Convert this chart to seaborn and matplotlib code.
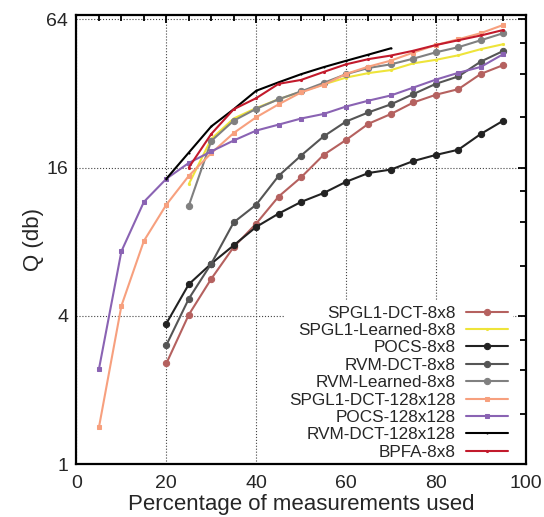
import numpy as np
import pandas as pd
import seaborn as sns
import matplotlib.pyplot as plt
from matplotlib.ticker import FixedLocator, FixedFormatter, NullFormatter

# values (Q in db, log scale base 2)
x_8x8 = [20, 25, 30, 35, 40, 45, 50, 55, 60, 65, 70, 75, 80, 85, 90, 95]
x_learned = [25, 30, 35, 40, 45, 50, 55, 60, 65, 70, 75, 80, 85, 90, 95]
x_128 = [5, 10, 15, 20, 25, 30, 35, 40, 45, 50, 55, 60, 65, 70, 75, 80, 85, 90, 95]
x_rvm128 = [20, 25, 30, 35, 40, 45, 50, 55, 60, 65, 70]

spgl1_dct_8 = [2.56, 4.04, 5.65, 7.61, 9.47, 12.2, 14.6, 18.0, 20.7, 24.1, 26.4, 29.4,
               31.6, 33.3, 38.4, 41.7]
spgl1_learned_8 = [13.7, 20.9, 25.3, 27.9, 30.3, 32.5, 34.8, 37.1, 38.7, 39.8, 42.4,
                   43.8, 45.7, 48.4, 50.7]
pocs_8 = [3.72, 5.37, 6.51, 7.73, 9.18, 10.4, 11.6, 12.6, 14.0, 15.2, 15.7, 17.0,
          18.0, 18.9, 21.9, 24.8]
rvm_dct_8 = [3.04, 4.69, 6.51, 9.58, 11.3, 14.8, 17.9, 21.4, 24.6, 26.8, 28.9, 31.8,
             35.0, 37.5, 43.1, 47.6]
rvm_learned_8 = [11.2, 20.5, 24.8, 27.7, 30.3, 32.6, 35.3, 38.3, 40.6, 42.0, 44.3,
                 47.0, 49.3, 52.6, 56.2]
spgl1_dct_128 = [1.41, 4.39, 8.05, 11.3, 14.8, 18.3, 22.1, 25.6, 28.9, 32.3, 34.7,
                 38.4, 41.1, 43.5, 46.9, 50.3, 53.1, 56.2, 60.7]
pocs_128 = [2.43, 7.31, 11.6, 14.4, 16.7, 18.6, 20.6, 22.6, 23.9, 25.3, 26.4, 28.3,
            29.9, 31.4, 33.8, 36.4, 38.8, 41.0, 46.2]
rvm_dct_128 = [14.4, 18.4, 23.5, 27.6, 32.8, 35.5, 38.3, 40.9, 43.4, 46.0, 48.8]
bpfa_8 = [16.0, 21.9, 27.6, 30.6, 35.0, 36.3, 39.1, 42.0, 44.1, 45.6, 47.7, 50.3,
          52.6, 55.0, 57.9]

series = [
    ("SPGL1-DCT-8x8", x_8x8, spgl1_dct_8, "#b5615f", "o", 4.5),
    ("SPGL1-Learned-8x8", x_learned, spgl1_learned_8, "#eee43a", ".", 3),
    ("POCS-8x8", x_8x8, pocs_8, "#222222", "o", 4.5),
    ("RVM-DCT-8x8", x_8x8, rvm_dct_8, "#555555", "o", 4.5),
    ("RVM-Learned-8x8", x_learned, rvm_learned_8, "#808080", "o", 4.5),
    ("SPGL1-DCT-128x128", x_128, spgl1_dct_128, "#f7a07e", "s", 3.5),
    ("POCS-128x128", x_128, pocs_128, "#8a63b3", "s", 3.5),
    ("RVM-DCT-128x128", x_rvm128, rvm_dct_128, "#000000", ".", 1.5),
    ("BPFA-8x8", x_learned, bpfa_8, "#c21a2c", ".", 3),
]

sns.set_style("white")
plt.rcParams['font.family'] = ['Liberation Sans', 'DejaVu Sans']

fig = plt.figure(figsize=(5.44, 5.17), dpi=100)
rect = [0.1406, 0.1025, 0.8258, 0.8691]
ax = fig.add_axes(rect)

for name, xs, ys, color, marker, ms in series:
    df = pd.DataFrame({'x': xs, 'y': ys})
    sns.lineplot(data=df, x='x', y='y', ax=ax, color=color, marker=marker,
                 markersize=ms, markeredgecolor=color, linewidth=1.5, label=name)

ax.set_yscale('log', base=2)
ax.set_xlim(0, 100)
ax.set_ylim(1, 2 ** 6.062)

ax.xaxis.set_major_locator(FixedLocator([0, 20, 40, 60, 80, 100]))
ax.xaxis.set_minor_locator(FixedLocator(np.arange(0, 101, 5)))
ax.yaxis.set_major_locator(FixedLocator([1, 4, 16, 64]))
ax.yaxis.set_major_formatter(FixedFormatter(['1', '4', '16', '64']))
ax.yaxis.set_minor_locator(FixedLocator([1.6, 2.4, 3.2, 6.4, 9.6, 12.8, 25.6, 38.4, 51.2]))
ax.yaxis.set_minor_formatter(NullFormatter())

ax.grid(True, which='major', linestyle=':', color='#444444', linewidth=0.8)
ax.tick_params(which='both', length=0, labelsize=14)
ax.tick_params(axis='x', which='major', pad=8)
ax.tick_params(axis='y', which='major', pad=6)

ax.set_xlabel('Percentage of measurements used', fontsize=16, labelpad=1)
ax.set_ylabel('Q (db)', fontsize=16, labelpad=2)

leg = ax.legend(loc='lower right', bbox_to_anchor=(0.971, 0.0), markerfirst=False,
                fontsize=12.3, frameon=True, framealpha=1, edgecolor='none',
                facecolor='white', fancybox=False, handlelength=2.5,
                handletextpad=0.6, labelspacing=0.14, borderpad=0.25,
                borderaxespad=0.0)

# overlay axes that carries the border and inward ticks above the key
ax2 = fig.add_axes(rect, sharex=ax, sharey=ax)
ax2.set_facecolor('none')
ax2.grid(False)
ax2.tick_params(which='both', direction='in', top=True, right=True, width=1.3,
                color='black', labelbottom=False, labelleft=False)
ax2.tick_params(which='major', length=6)
ax2.tick_params(which='minor', length=4)
for s in ax2.spines.values():
    s.set_color('black')
    s.set_linewidth(1.6)
for s in ax.spines.values():
    s.set_visible(False)

fig.savefig('out.png', dpi=100)
